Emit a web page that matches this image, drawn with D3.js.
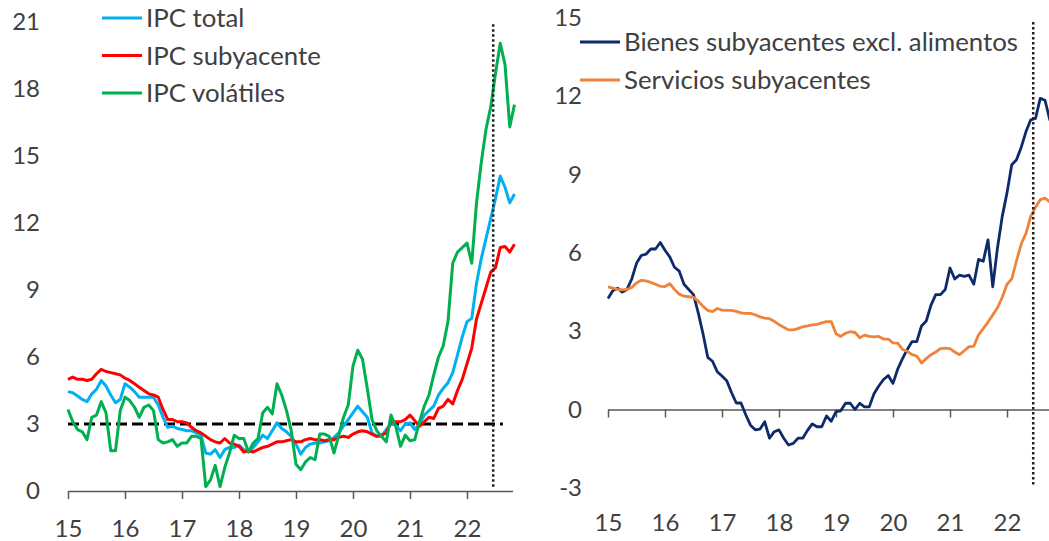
<!DOCTYPE html>
<html>
<head>
<meta charset="utf-8">
<script src="https://cdn.jsdelivr.net/npm/d3@7"></script>
<style>
  body { margin: 0; background: #fff; }
  text { font-family: Lato, "Open Sans", sans-serif; fill: #404040; }
</style>
</head>
<body>
<div id="chart"></div>
<script>
// monthly data, Jan 2015 .. Nov 2022
var startYear = 15;
var yearTicks = [15, 16, 17, 18, 19, 20, 21, 22];
var leftTicks = [0, 3, 6, 9, 12, 15, 18, 21];
var rightTicks = [-3, 0, 3, 6, 9, 12, 15];
var markerYear = 22.46;   // vertical dotted line
var targetRate = 3;

var leftLabels = ["IPC total", "IPC subyacente", "IPC volátiles"];
var rightLabels = ["Bienes subyacentes excl. alimentos", "Servicios subyacentes"];

var ipcTotal = [4.45,4.4,4.25,4.1,4.0,4.35,4.55,4.95,4.7,4.3,
  3.95,4.1,4.8,4.65,4.45,4.2,4.2,4.2,4.2,3.85,
  3.3,2.85,2.9,2.8,2.75,2.7,2.7,2.6,2.5,1.7,
  1.65,1.85,1.5,1.85,1.95,1.95,2.05,1.85,1.75,1.95,
  2.2,2.5,2.35,2.7,3.05,2.8,2.65,2.45,2.1,1.65,
  1.95,2.1,2.15,2.15,2.2,2.25,2.4,2.6,2.9,3.2,
  3.5,3.8,3.55,3.3,2.6,2.45,2.45,2.75,3.0,2.95,
  2.7,3.0,3.05,2.75,3.0,3.4,3.6,3.8,4.3,4.6,
  4.85,5.3,6.1,6.9,7.58,7.73,9.3,10.4,11.3,12.2,
  13.1,14.1,13.6,12.9,13.3];

var ipcSubyacente = [5.0,5.1,5.0,5.0,4.95,5.0,5.25,5.45,5.35,5.3,
  5.25,5.2,5.05,4.95,4.8,4.65,4.5,4.35,4.3,4.2,
  3.65,3.2,3.2,3.1,3.1,3.05,2.85,2.7,2.6,2.45,
  2.3,2.2,2.15,2.35,2.15,2.1,2.0,1.75,1.8,1.75,
  1.85,1.95,2.0,2.1,2.2,2.2,2.25,2.3,2.2,2.2,
  2.3,2.35,2.3,2.3,2.25,2.3,2.3,2.4,2.45,2.4,
  2.55,2.65,2.7,2.65,2.55,2.45,2.5,2.6,3.1,3.1,
  3.1,3.2,3.4,3.15,2.9,3.1,3.3,3.25,3.7,3.8,
  4.1,3.9,4.5,5.0,5.7,6.4,7.7,8.4,9.1,9.8,
  10.0,10.9,10.95,10.7,11.05];

var ipcVolatiles = [3.65,3.1,2.75,2.65,2.3,3.3,3.4,4.0,3.5,1.8,
  1.8,3.6,4.2,4.05,3.75,3.3,3.75,3.85,3.6,2.3,
  2.15,2.2,2.3,2.0,2.15,2.15,2.45,2.45,2.35,0.2,
  0.5,1.15,0.2,1.05,1.7,2.5,2.35,2.35,1.75,2.15,
  2.35,3.5,3.75,3.45,4.8,4.3,3.6,2.7,1.2,0.95,
  1.3,1.5,1.4,2.55,2.55,2.45,1.7,2.5,3.3,3.85,
  5.6,6.3,5.9,4.6,3.2,2.7,2.45,2.2,3.4,2.9,
  2.0,2.5,2.25,2.3,3.1,3.8,4.3,5.2,6.0,6.5,
  7.6,10.2,10.7,10.9,11.1,10.2,12.9,14.7,16.2,17.2,
  18.7,20.05,19.1,16.3,17.3];

var bienesSub = [4.25,4.55,4.65,4.5,4.6,5.0,5.6,5.9,5.95,6.15,
  6.15,6.4,6.1,5.85,5.45,5.3,4.8,4.6,4.4,3.7,
  2.9,2.0,1.85,1.45,1.28,1.1,0.65,0.25,0.25,-0.2,
  -0.6,-0.78,-0.75,-0.47,-1.1,-0.85,-0.78,-1.1,-1.36,-1.3,
  -1.1,-1.1,-0.8,-0.55,-0.66,-0.66,-0.25,-0.45,-0.08,-0.05,
  0.24,0.24,0.0,0.24,0.1,0.1,0.6,0.9,1.15,1.3,
  1.0,1.55,1.95,2.3,2.6,2.6,3.2,3.39,4.0,4.4,
  4.4,4.6,5.42,5.0,5.15,5.1,5.15,4.8,5.75,5.68,
  6.5,4.7,6.2,7.4,8.3,9.38,9.57,10.05,10.65,11.1,
  11.15,11.92,11.85,11.1,10.8];

var serviciosSub = [4.7,4.65,4.6,4.58,4.6,4.68,4.85,4.95,4.93,4.87,
  4.8,4.72,4.71,4.82,4.6,4.42,4.34,4.32,4.3,4.15,
  3.95,3.8,3.75,3.87,3.81,3.8,3.8,3.76,3.7,3.68,
  3.68,3.63,3.55,3.5,3.48,3.38,3.25,3.15,3.05,3.05,
  3.1,3.17,3.2,3.24,3.26,3.32,3.37,3.37,2.9,2.8,
  2.92,2.98,2.95,2.75,2.85,2.8,2.78,2.8,2.7,2.7,
  2.55,2.54,2.3,2.23,2.1,2.05,1.78,1.95,2.1,2.2,
  2.33,2.35,2.33,2.2,2.1,2.25,2.41,2.42,2.86,3.1,
  3.35,3.62,3.9,4.3,4.8,5.0,5.7,6.35,6.75,7.4,
  7.75,8.04,8.1,7.95,7.9];

var leftColors = ["#00B0F0", "#FF0000", "#00B050"];
var rightColors = ["#0D2B6B", "#F0823A"];

var width = 1049, height = 541;

var svg = d3.select("#chart").append("svg")
  .attr("width", width)
  .attr("height", height)
  .style("background", "#fff");

function toSeries(vals) {
  return vals.map(function(v, i) { return {t: startYear + i / 12, v: v}; });
}

function plain(d) { return String(d); }   // keeps "-3" with a hyphen

// ---------- left panel ----------
var xL = d3.scaleLinear().domain([15, 22.8]).range([68, 512.6]);
var yL = d3.scaleLinear().domain([0, 21]).range([491, 22]);

var gL = svg.append("g");

gL.append("g")
  .attr("transform", "translate(43,0)")
  .call(d3.axisLeft(yL).tickValues(leftTicks).tickFormat(plain).tickSize(0).tickPadding(3))
  .call(function(g) { g.select(".domain").remove(); })
  .selectAll("text").style("font-size", "24px").style("font-family", "Lato");

gL.append("g")
  .attr("class", "xaxis")
  .attr("transform", "translate(0," + yL(0) + ")")
  .call(d3.axisBottom(xL).tickValues(yearTicks).tickFormat(plain)
    .tickSize(8).tickSizeOuter(0).tickPadding(21))
  .selectAll("text").style("font-size", "24px").style("font-family", "Lato");

// target line
gL.append("line")
  .attr("x1", xL(15)).attr("x2", xL(22.63))
  .attr("y1", yL(targetRate)).attr("y2", yL(targetRate))
  .style("stroke", "#000").style("stroke-width", 3)
  .style("stroke-dasharray", "11,5");

var lineL = d3.line()
  .x(function(d) { return xL(d.t); })
  .y(function(d) { return yL(d.v); });

[ipcTotal, ipcSubyacente, ipcVolatiles].forEach(function(s, k) {
  gL.append("path")
    .datum(toSeries(s))
    .attr("d", lineL)
    .style("fill", "none")
    .style("stroke", leftColors[k])
    .style("stroke-width", 3)
    .style("stroke-linejoin", "round");
});

gL.append("line")
  .attr("x1", xL(markerYear)).attr("x2", xL(markerYear))
  .attr("y1", yL(20.9)).attr("y2", yL(0.15))
  .style("stroke", "#222").style("stroke-width", 2.5)
  .style("stroke-dasharray", "2.5,2.5");

leftLabels.forEach(function(lbl, k) {
  var ly = 18 + k * 37.5;
  gL.append("line")
    .attr("x1", 102).attr("x2", 142).attr("y1", ly).attr("y2", ly)
    .style("stroke", leftColors[k]).style("stroke-width", 3);
  gL.append("text")
    .attr("x", 146).attr("y", ly).attr("dy", "0.35em")
    .style("font-size", "25.8px")
    .text(lbl);
});

// ---------- right panel ----------
var xR = d3.scaleLinear().domain([15, 22.8]).range([608, 1052.6]);
var yR = d3.scaleLinear().domain([-3, 15]).range([487.8, 18]);

var gR = svg.append("g");

gR.append("g")
  .attr("transform", "translate(585,0)")
  .call(d3.axisLeft(yR).tickValues(rightTicks).tickFormat(plain).tickSize(0).tickPadding(3))
  .call(function(g) { g.select(".domain").remove(); })
  .selectAll("text").style("font-size", "24px").style("font-family", "Lato");

gR.append("g")
  .attr("class", "xaxis")
  .attr("transform", "translate(0," + yR(0) + ")")
  .call(d3.axisBottom(xR).tickValues(yearTicks).tickFormat(plain)
    .tickSize(8).tickSizeOuter(0).tickPadding(96))
  .selectAll("text").style("font-size", "24px").style("font-family", "Lato");

var lineR = d3.line()
  .x(function(d) { return xR(d.t); })
  .y(function(d) { return yR(d.v); });

[bienesSub, serviciosSub].forEach(function(s, k) {
  gR.append("path")
    .datum(toSeries(s))
    .attr("d", lineR)
    .style("fill", "none")
    .style("stroke", rightColors[k])
    .style("stroke-width", 2.8)
    .style("stroke-linejoin", "round");
});

gR.append("line")
  .attr("x1", xR(markerYear)).attr("x2", xR(markerYear))
  .attr("y1", yR(14.85)).attr("y2", yR(-2.9))
  .style("stroke", "#222").style("stroke-width", 2.5)
  .style("stroke-dasharray", "2.5,2.5");

rightLabels.forEach(function(lbl, k) {
  var ly = 42 + k * 38;
  gR.append("line")
    .attr("x1", 580).attr("x2", 620).attr("y1", ly).attr("y2", ly)
    .style("stroke", rightColors[k]).style("stroke-width", 2.8);
  gR.append("text")
    .attr("x", 624).attr("y", ly).attr("dy", "0.35em")
    .style("font-size", "25.8px")
    .text(lbl);
});

svg.selectAll(".xaxis path, .xaxis line")
  .style("stroke", "#595959").style("stroke-width", 1.5);
</script>
</body>
</html>
